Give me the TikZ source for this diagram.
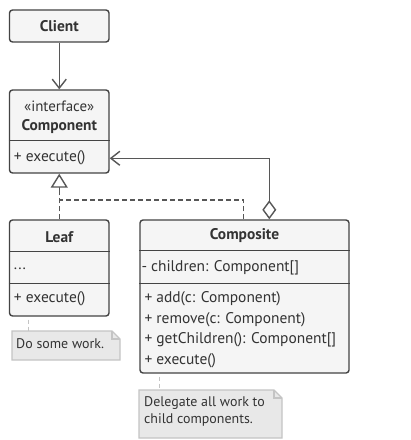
\documentclass[tikz,border=0pt]{standalone}
\usepackage{fontspec}
\setmainfont{PT Sans}
\usetikzlibrary{arrows.meta,calc}
\definecolor{bord}{HTML}{444444}
\definecolor{boxfill}{HTML}{F5F5F5}
\definecolor{txt}{HTML}{333333}
\definecolor{notefill}{HTML}{E8E8E8}
\definecolor{noteline}{HTML}{C4C4C4}
\begin{document}
\begin{tikzpicture}[x=1bp,y=-1bp,
  umlbox/.style={draw=bord,fill=boxfill,line width=1.4bp,rounded corners=3bp,inner sep=0pt},
  divider/.style={draw=bord,line width=1.4bp},
  ttl/.style={font=\fontsize{15.5}{18}\selectfont\bfseries,text=txt,inner sep=0pt},
  mem/.style={font=\fontsize{15.5}{20.6}\selectfont,text=txt,inner sep=0pt,anchor=west,align=left},
  conn/.style={draw=bord!90,line width=1.4bp},
  dashconn/.style={conn,dash pattern=on 5bp off 3bp},
  notelink/.style={draw=noteline,line width=1.2bp,dash pattern=on 4bp off 3bp},
  notetxt/.style={font=\fontsize{14}{17}\selectfont,text=txt,inner sep=0pt,anchor=north west,align=left}
]
\useasboundingbox[fill=white] (0,0) rectangle (410,440);

% Client
\node[umlbox,minimum width=99.5bp,minimum height=32bp] (client) at (59.25,26) {};
\node[ttl] (clientT) at (client.center) {Client};

% Component
\node[umlbox,minimum width=99.5bp,minimum height=83bp] (comp) at (59.25,131.5) {};
\node[font=\fontsize{15}{18}\selectfont,text=txt,inner sep=0pt] (compS) at (59.25,106) {«interface»};
\node[ttl] (compT) at (59.25,127) {Component};
\coordinate (cd1) at ($(comp.north west)+(0,51)$);
\draw[divider] (cd1) -- (cd1 -| comp.east);
\node[mem] (compM) at ($(comp.north west)+(5,68.5)$) {+ execute()};

% Leaf
\node[umlbox,minimum width=99.5bp,minimum height=96bp] (leaf) at (59.25,268) {};
\node[ttl] (leafT) at (59.25,237) {Leaf};
\coordinate (ld1) at ($(leaf.north west)+(0,32)$);
\coordinate (ld2) at ($(leaf.north west)+(0,64)$);
\draw[divider] (ld1) -- (ld1 -| leaf.east);
\draw[divider] (ld2) -- (ld2 -| leaf.east);
\node[mem] (leafA) at ($(leaf.north west)+(5,49)$) {...};
\node[mem] (leafM) at ($(leaf.north west)+(5,79.5)$) {+ execute()};

% Composite
\node[umlbox,minimum width=209bp,minimum height=153bp] (compo) at (244.5,296.5) {};
\node[ttl] (compoT) at (244.5,236) {Composite};
\coordinate (kd1) at ($(compo.north west)+(0,31)$);
\coordinate (kd2) at ($(compo.north west)+(0,64)$);
\draw[divider] (kd1) -- (kd1 -| compo.east);
\draw[divider] (kd2) -- (kd2 -| compo.east);
\node[mem] (compoA) at ($(compo.north west)+(2,48)$) {- children: Component[]};
\node[mem,anchor=north west] (compoM) at ($(compo.north west)+(5,72)$) {+ add(c: Component)\\+ remove(c: Component)\\+ getChildren(): Component[]\\+ execute()};

% Notes
\coordinate (n1a) at (12,331);
\coordinate (n1b) at (120,360);
\draw[fill=notefill,draw=noteline,line width=1.2bp] (n1a) -- ($(n1b|-n1a)+(-8,0)$) -- ($(n1b|-n1a)+(0,8)$) -- (n1b) -- (n1a|-n1b) -- cycle;
\draw[draw=noteline,line width=1.2bp] ($(n1b|-n1a)+(-8,0)$) -- ($(n1b|-n1a)+(-8,8)$) -- ($(n1b|-n1a)+(0,8)$);
\node[notetxt] (note1) at ($(n1a)+(4,7)$) {Do some work.};

\coordinate (n2a) at (139,390);
\coordinate (n2b) at (282,438);
\draw[fill=notefill,draw=noteline,line width=1.2bp] (n2a) -- ($(n2b|-n2a)+(-8,0)$) -- ($(n2b|-n2a)+(0,8)$) -- (n2b) -- (n2a|-n2b) -- cycle;
\draw[draw=noteline,line width=1.2bp] ($(n2b|-n2a)+(-8,0)$) -- ($(n2b|-n2a)+(-8,8)$) -- ($(n2b|-n2a)+(0,8)$);
\node[notetxt] (note2) at ($(n2a)+(5,6)$) {Delegate all work to\\child components.};

% Note links
\coordinate (l1) at ($(leaf.south west)+(20,3)$);
\draw[notelink] (l1) -- (l1 |- n1a);
\coordinate (l2) at ($(compo.south west)+(20,3)$);
\draw[notelink] (l2) -- (l2 |- n2a);

% Client -> Component
\draw[conn,-{Straight Barb[length=9bp,width=14bp]}] (client.south) -- (comp.north);

% Inheritance
\coordinate (inh) at (comp.south);
\coordinate (bend) at (59.25,200);
\coordinate (cup) at ($(compo.north west)+(104,0)$);
\draw[dashconn] (leaf.north) -- ($(inh)+(0,16)$);
\draw[dashconn] (cup) |- (bend);
\draw[conn,-{Triangle[open,length=14bp,width=17bp,fill=white]}] ($(inh)+(0,16)$) -- (inh);

% Aggregation
\coordinate (agg) at ($(compo.north west)+(130,0)$);
\coordinate (aggT) at ($(comp.north east)+(0,69)$);
\draw[conn,{Diamond[open,length=19bp,width=14bp,fill=white]}-{Straight Barb[length=9bp,width=14bp]}] (agg) |- (aggT);
\end{tikzpicture}
\end{document}
